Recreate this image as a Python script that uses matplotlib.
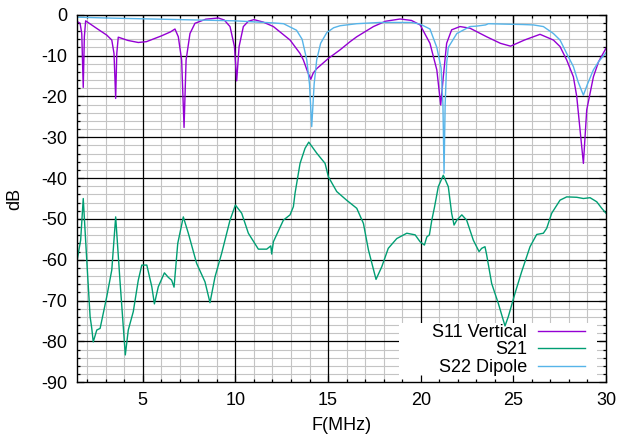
import numpy as np
import matplotlib
matplotlib.use("Agg")
import matplotlib.pyplot as plt
from matplotlib.patches import Rectangle
from matplotlib.ticker import MultipleLocator

plt.rcParams['font.family'] = ['Liberation Sans', 'DejaVu Sans']
plt.rcParams['axes.unicode_minus'] = False

# S11 of the vertical antenna (dB)
s11_freq = [1.47, 1.62, 1.71, 1.79, 1.85, 1.92, 2.5, 3.06, 3.33, 3.45, 3.54, 3.6, 3.68,
            4.2, 4.76, 5.2, 6.0, 6.5, 6.74, 6.92, 7.1, 7.23, 7.34, 7.55, 7.82, 8.4,
            9.08, 9.4, 9.71, 9.95, 10.07, 10.2, 10.43, 10.7, 11.0, 11.5, 12.05, 12.95,
            13.49, 13.67, 13.9, 14.07, 14.2, 14.39, 15.02, 15.65, 16.19, 16.55, 17.45,
            18.1, 18.89, 19.5, 19.97, 20.5, 20.87, 21.08, 21.22, 21.4, 21.67, 22.12,
            22.66, 23.56, 24.3, 24.85, 25.6, 26.44, 27.16, 27.52, 27.88, 28.24, 28.42,
            28.78, 28.96, 29.32, 29.6, 30.0]
s11_db = [-1.7, -2.1, -4.6, -17.8, -5.4, -1.5, -3.3, -5.0, -6.2, -9.5, -20.5, -9.5, -5.5,
          -6.3, -6.8, -6.6, -5.2, -4.2, -3.5, -5.4, -11.1, -27.6, -11.1, -4.6, -2.1, -1.1,
          -0.8, -1.3, -2.9, -7.8, -16.2, -7.8, -2.9, -1.6, -1.2, -1.8, -2.9, -6.2,
          -9.5, -11.1, -14.0, -15.8, -14.3, -13.2, -10.7, -8.6, -6.6, -5.4, -2.9,
          -1.6, -1.05, -1.4, -2.5, -7.0, -13.5, -22.1, -15.2, -7.0, -3.7, -2.9,
          -3.3, -5.4, -7.0, -7.7, -6.2, -4.8, -6.2, -7.8, -11.1, -15.2, -20.0,
          -36.4, -23.3, -15.2, -11.5, -8.2]

# S21 transmission between the two antennas (dB)
s21_freq = [1.47, 1.53, 1.65, 1.79, 2.0, 2.16, 2.25, 2.33, 2.52, 2.7, 3.06, 3.33, 3.54,
            3.77, 4.06, 4.22, 4.49, 4.76, 4.95, 5.22, 5.49, 5.63, 5.84, 6.17, 6.38,
            6.56, 6.69, 6.89, 7.19, 7.46, 7.91, 8.36, 8.63, 8.9, 9.26, 9.71, 10.0,
            10.34, 10.7, 11.24, 11.69, 11.91, 11.96, 12.05, 12.59, 12.95, 13.13, 13.22,
            13.49, 13.76, 13.96, 14.39, 14.84, 15.02, 15.47, 16.0, 16.55, 16.91, 17.18,
            17.59, 17.9, 18.25, 18.71, 19.25, 19.7, 19.97, 20.2, 20.33, 20.47, 20.6,
            20.75, 20.95, 21.22, 21.49, 21.67, 21.8, 21.95, 22.22, 22.48, 22.84, 23.15,
            23.29, 23.47, 23.56, 23.83, 24.19, 24.55, 24.73, 25.09, 25.45, 25.9, 26.26,
            26.62, 26.8, 27.07, 27.52, 27.88, 28.42, 28.78, 29.14, 29.5, 29.77, 30.0]
s21_db = [-60.0, -58.3, -55.2, -45.0, -61.7, -73.9, -76.8, -80.1, -77.2, -76.8, -69.0,
          -62.5, -49.5, -65.0, -83.3, -77.2, -72.7, -65.0, -61.3, -61.3, -66.6, -70.8,
          -66.6, -63.2, -64.3, -65.0, -66.7, -56.0, -49.5, -53.5, -60.9, -65.4, -70.5,
          -64.2, -58.4, -50.3, -46.6, -48.6, -53.5, -57.4, -57.4, -56.6, -58.6, -55.6,
          -50.3, -49.0, -47.0, -43.7, -36.4, -32.7, -31.2, -33.9, -36.4, -39.7, -43.3,
          -45.4, -47.4, -51.1, -57.6, -64.8, -61.7, -57.2, -54.8, -53.5, -53.9, -55.6,
          -56.4, -54.4, -53.9, -50.3, -47.0, -42.1, -39.3, -42.1, -48.6, -51.5, -50.3,
          -49.0, -50.3, -55.2, -58.0, -57.2, -56.8, -58.8, -65.8, -70.7, -76.2, -73.9,
          -68.2, -62.9, -56.8, -53.8, -53.5, -52.3, -48.6, -45.4, -44.6, -44.7, -45.0,
          -44.8, -45.8, -47.4, -48.6]

# S22 of the dipole (dB)
s22_freq = [1.47, 3.0, 5.0, 8.0, 10.0, 12.0, 12.6, 12.95, 13.3, 13.6, 13.85, 14.0, 14.12,
            14.25, 14.39, 14.6, 14.93, 15.3, 15.65, 16.55, 17.8, 19.5, 19.97, 20.5, 20.87,
            21.1, 21.2, 21.26, 21.32, 21.4, 21.49, 21.95, 22.66, 23.0, 23.5, 23.65, 24.5,
            25.5, 26.08, 26.62, 27.16, 27.52, 27.88, 28.24, 28.5, 28.78, 29.0, 29.32,
            29.6, 30.0]
s22_db = [-0.6, -0.8, -1.0, -1.3, -1.5, -2.0, -2.2, -3.0, -3.8, -6.0, -11.0, -17.0, -27.4,
          -17.0, -11.0, -7.0, -4.4, -3.2, -2.7, -2.2, -1.9, -1.9, -2.3, -3.5, -8.0,
          -13.0, -22.0, -38.8, -22.0, -12.0, -8.0, -4.6, -2.9, -2.8, -2.5, -2.2, -2.3,
          -2.4, -2.5, -2.9, -4.6, -6.2, -9.5, -12.7, -16.5, -19.7, -17.0, -13.5,
          -11.5, -9.3]

series = [
    ('S11 Vertical', s11_freq, s11_db, '#9400d3'),
    ('S21', s21_freq, s21_db, '#009e73'),
    ('S22 Dipole', s22_freq, s22_db, '#56b4e9'),
]

fs = 13

fig = plt.figure(figsize=(6.19, 4.34), dpi=100)
ax = fig.add_axes([0.1249, 0.1191, 0.8541, 0.847])

ax.set_xlim(1.47, 30)
ax.set_ylim(-90, 0)
ax.xaxis.set_major_locator(MultipleLocator(5))
ax.xaxis.set_minor_locator(MultipleLocator(1))
ax.yaxis.set_major_locator(MultipleLocator(10))
ax.yaxis.set_minor_locator(MultipleLocator(2))

# grid drawn by hand so the key box can sit between grid and curves
for x in ax.get_xticks(minor=True):
    if 1.47 < x < 30:
        ax.axvline(x, color='#c4c4c4', lw=0.8, zorder=0.5)
for y in ax.get_yticks(minor=True):
    if -90 < y < 0:
        ax.axhline(y, color='#c4c4c4', lw=0.8, zorder=0.5)
for x in ax.get_xticks():
    if 1.47 < x < 30:
        ax.axvline(x, color='black', lw=0.9, zorder=0.6)
for y in ax.get_yticks():
    if -90 < y < 0:
        ax.axhline(y, color='black', lw=0.9, zorder=0.6)

for label, f, db, color in series:
    ax.plot(f, db, color=color, lw=1.0, label=label, zorder=2)

ax.tick_params(which='both', direction='in', top=True, right=True,
               labelsize=fs, width=0.9, color='black')
ax.tick_params(which='major', length=5)
ax.tick_params(which='minor', length=2.5)
ax.tick_params(axis='x', pad=7)
ax.tick_params(axis='y', pad=7)
for s in ax.spines.values():
    s.set_linewidth(1.0)

ax.set_xlabel('F(MHz)', fontsize=fs)
ax.xaxis.set_label_coords(0.5, -0.095)
ax.set_ylabel('dB', fontsize=fs)
ax.yaxis.set_label_coords(-0.103, 0.5)

# opaque key background
ax.add_patch(Rectangle((0.609, 0.0), 0.3735, 0.162, transform=ax.transAxes,
                       facecolor='white', edgecolor='none', zorder=1))
leg = ax.legend(loc='center right', bbox_to_anchor=(0.9603, 0.0879), frameon=False,
                markerfirst=False, fontsize=fs, handlelength=2.6, handletextpad=0.6,
                labelspacing=0.02, borderpad=0, borderaxespad=0)

fig.savefig('out.png', dpi=100)
